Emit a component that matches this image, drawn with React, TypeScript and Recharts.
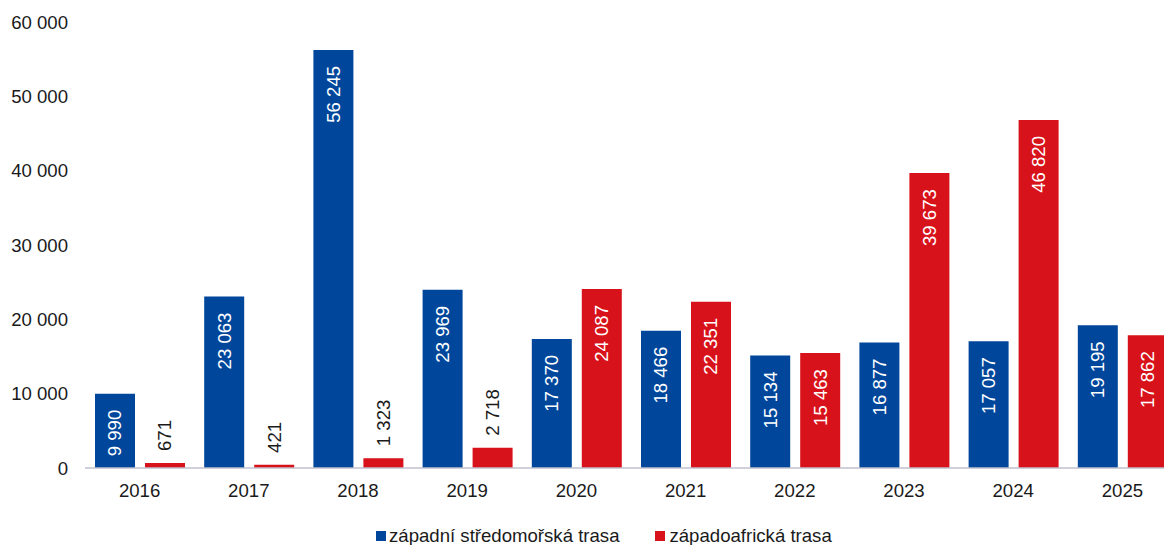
import { BarChart, Bar, XAxis, YAxis, Legend, LabelList } from 'recharts';

const years = ['2016', '2017', '2018', '2019', '2020', '2021', '2022', '2023', '2024', '2025'];
const westMediterranean = [9990, 23063, 56245, 23969, 17370, 18466, 15134, 16877, 17057, 19195];
const westAfrican = [671, 421, 1323, 2718, 24087, 22351, 15463, 39673, 46820, 17862];
const yTicks = [0, 10000, 20000, 30000, 40000, 50000, 60000];
const seriesNames = ['západní středomořská trasa', 'západoafrická trasa'];

const BLUE = '#00479c';
const RED = '#d8121a';
const TEXT = '#1a1a1a';
const FONT = '"Liberation Sans", Arial, sans-serif';
const FS = 18.6;

const data = years.map((year, i) => ({
  year,
  west: westMediterranean[i],
  africa: westAfrican[i],
}));

const fmt = (n: number) => String(n).replace(/\B(?=(\d{3})+(?!\d))/g, ' ');

const renderValueLabel = (props: any) => {
  const { x, y, width, height, value } = props;
  const cx = Number(x) + Number(width) / 2;
  const top = Number(y);
  const inside = Number(height) > 60;
  const ty = inside ? top + 16 : top - 12;
  return (
    <text
      x={cx}
      y={ty}
      transform={`rotate(-90 ${cx} ${ty})`}
      textAnchor={inside ? 'end' : 'start'}
      dominantBaseline="central"
      fill={inside ? '#ffffff' : TEXT}
      fontSize={FS}
      fontFamily={FONT}
    >
      {fmt(Number(value))}
    </text>
  );
};

const renderLegend = () => (
  <div style={{ display: 'flex', alignItems: 'center', fontFamily: FONT, fontSize: FS, color: TEXT, whiteSpace: 'nowrap', lineHeight: '22px' }}>
    <span style={{ width: 10, height: 10, background: BLUE, display: 'inline-block', marginRight: 3 }} />
    <span style={{ marginRight: 36 }}>{seriesNames[0]}</span>
    <span style={{ width: 10, height: 10, background: RED, display: 'inline-block', marginRight: 4 }} />
    <span>{seriesNames[1]}</span>
  </div>
);

export default function App() {
  return (
    <div style={{ position: 'absolute', left: 0, top: 0, width: 1164, height: 545, overflow: 'hidden', background: '#fff' }}>
      <BarChart
        width={1200}
        height={545}
        data={data}
        margin={{ top: 22, right: 23, left: 0, bottom: 47 }}
        barSize={40}
        barGap={10}
      >
        <XAxis
          dataKey="year"
          height={30}
          axisLine={{ stroke: '#bfc1cc', strokeWidth: 1.5 }}
          tickLine={false}
          tickSize={0}
          tickMargin={16}
          tick={{ fontSize: FS, fill: TEXT, fontFamily: FONT }}
        />
        <YAxis
          width={85}
          domain={[0, 60000]}
          ticks={yTicks}
          axisLine={false}
          tickLine={false}
          tickSize={0}
          tickMargin={17}
          tickFormatter={(v: number) => fmt(v)}
          tick={{ fontSize: FS, fill: TEXT, fontFamily: FONT }}
        />
        <Legend
          verticalAlign="middle"
          content={renderLegend}
          wrapperStyle={{ left: 376, top: 525, width: 'auto', height: 22 }}
        />
        <Bar dataKey="west" name={seriesNames[0]} fill={BLUE} isAnimationActive={false}>
          <LabelList dataKey="west" content={renderValueLabel} />
        </Bar>
        <Bar dataKey="africa" name={seriesNames[1]} fill={RED} isAnimationActive={false}>
          <LabelList dataKey="africa" content={renderValueLabel} />
        </Bar>
      </BarChart>
    </div>
  );
}
